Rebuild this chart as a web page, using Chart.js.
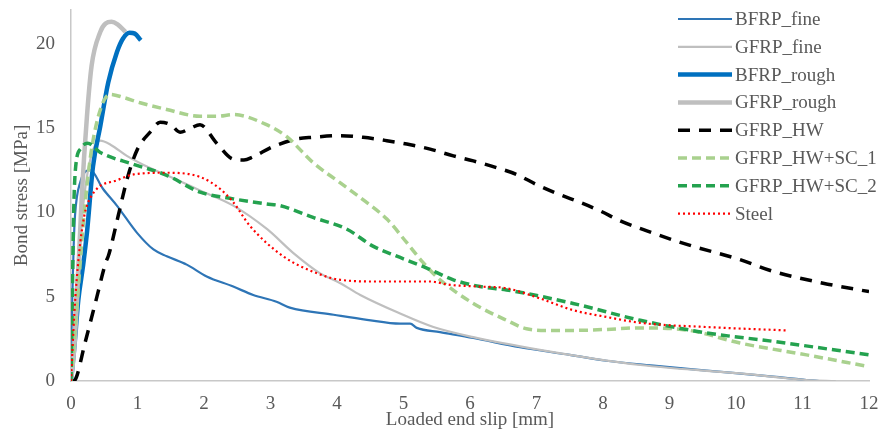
<!DOCTYPE html>
<html>
<head>
<meta charset="utf-8">
<script src="https://cdn.jsdelivr.net/npm/chart.js@4.4.1/dist/chart.umd.min.js"></script>
<style>
html,body{margin:0;padding:0;background:#fff;}
#wrap{width:883px;height:432px;position:relative;}
</style>
</head>
<body>
<div id="wrap"><canvas id="c" width="883" height="432"></canvas></div>
<script>
// ---- Data ----
const xTicks = [0,1,2,3,4,5,6,7,8,9,10,11,12];
const yTicks = [0,5,10,15,20];
const seriesNames = ["BFRP_fine","GFRP_fine","BFRP_rough","GFRP_rough","GFRP_HW","GFRP_HW+SC_1","GFRP_HW+SC_2","Steel"];

const bfrpFineX = [0,0.02,0.04,0.06,0.14,0.29,0.48,0.69,0.99,1.24,1.44,1.74,2.04,2.44,2.74,3.09,3.29,3.95,4.45,4.95,5.1,5.2,5.55,6.05,6.75,7.5,8.05,8.8,9.56,10.56,11.06,11.25];
const bfrpFineY = [0,5,8,9.8,11.8,12.5,11.4,10.4,8.8,7.8,7.4,6.9,6.2,5.6,5.1,4.7,4.35,3.93,3.63,3.4,3.4,3.15,2.9,2.55,2.0,1.55,1.2,0.9,0.62,0.26,0.06,0];

const gfrpFineX = [0,0.05,0.1,0.2,0.3,0.44,0.6,0.84,1.1,1.44,1.94,2.44,2.95,3.34,3.74,4.05,4.35,4.95,5.45,6.05,7.05,8.56,10.06,11.06,11.5];
const gfrpFineY = [0,4,7,11,13.3,14.25,14.0,13.35,12.8,12.2,11.3,10.4,9.0,7.6,6.4,5.8,5.1,4.0,3.2,2.6,1.85,0.95,0.45,0.06,0];

const bfrpRoughX = [0,0.05,0.11,0.18,0.24,0.33,0.44,0.56,0.69,0.78,0.88,0.96,1.05];
const bfrpRoughY = [0,2,4.8,6.8,8.8,12.7,15.1,17.7,19.5,20.3,20.65,20.6,20.2];

const gfrpRoughX = [0,0.05,0.09,0.16,0.24,0.31,0.44,0.52,0.61,0.7,0.82];
const gfrpRoughY = [0,2,4.8,10.8,15.7,18.7,20.7,21.2,21.3,21.15,20.7];

const gfrpHwX = [0.03,0.06,0.21,0.39,0.52,0.56,0.59,0.71,0.86,1.0,1.2,1.34,1.5,1.64,1.8,1.94,2.19,2.44,2.6,2.74,3.04,3.39,3.64,4.05,4.39,4.75,5.05,5.4,5.75,6.05,6.4,6.7,7.0,7.35,7.65,7.95,8.26,8.66,9.26,10.06,10.56,11.31,12.0];
const gfrpHwY = [0,0.06,2.25,5.0,7.0,7.4,7.8,9.8,12.2,13.75,14.8,15.35,15.2,14.75,15.0,15.2,14.1,13.15,13.1,13.3,13.9,14.35,14.45,14.55,14.45,14.25,14.05,13.75,13.35,13.05,12.65,12.25,11.65,11.05,10.6,10.1,9.5,8.9,8.1,7.2,6.5,5.8,5.3];

const sc1X = [0,0.05,0.1,0.2,0.3,0.45,0.59,0.8,1.04,1.44,1.94,2.2,2.44,2.94,3.24,3.64,4.05,4.39,4.75,5.05,5.3,5.55,6.05,6.55,6.85,7.2,7.55,8.0,8.56,9.3,10.06,11.06,12.0];
const sc1Y = [0,2.5,5,10,13.5,16.2,17.0,16.8,16.5,16.1,15.7,15.7,15.8,15.2,14.5,12.95,11.75,10.75,9.6,8.2,7.0,6.0,4.6,3.6,3.1,3.0,3.0,3.05,3.15,3.0,2.25,1.55,0.85];

const sc2X = [0,0.02,0.04,0.07,0.15,0.25,0.44,0.94,1.44,1.94,2.44,2.94,3.14,3.64,4.15,4.54,4.9,5.35,5.75,6.15,6.55,7.55,8.56,9.56,10.56,12.0];
const sc2Y = [0,5,10,12.7,13.8,14.1,13.55,12.85,12.2,11.2,10.8,10.5,10.4,9.7,9.0,8.0,7.4,6.7,6.0,5.6,5.4,4.6,3.6,2.85,2.35,1.55];

const steelX = [0,0.05,0.12,0.2,0.24,0.39,0.69,0.94,1.44,1.94,2.24,2.44,2.69,3.19,3.69,4.05,4.6,5.4,5.7,6.15,6.55,7.05,7.55,8.05,8.56,9.56,10.76];
const steelY = [0,4,7.5,9.8,10.4,11.4,11.9,12.25,12.35,12.1,11.4,10.6,9.2,7.4,6.4,6.0,5.9,5.9,5.7,5.6,5.5,4.9,4.2,3.8,3.45,3.2,3.0];

// ---- Build ----
const pts = (xs, ys) => xs.map((x, i) => ({x: x, y: ys[i]}));
const styles = [
  {c:'#2E75B6', w:2.2, d:[]},
  {c:'#BFBFBF', w:2.2, d:[]},
  {c:'#0070C0', w:4.5, d:[]},
  {c:'#BFBFBF', w:4.5, d:[]},
  {c:'#000000', w:3.5, d:[12,9]},
  {c:'#A9D18E', w:3.5, d:[9,5]},
  {c:'#24A24F', w:3.5, d:[9,5]},
  {c:'#FF0000', w:2.2, d:[2,3]}
];
const allData = [
  pts(bfrpFineX,bfrpFineY), pts(gfrpFineX,gfrpFineY), pts(bfrpRoughX,bfrpRoughY), pts(gfrpRoughX,gfrpRoughY),
  pts(gfrpHwX,gfrpHwY), pts(sc1X,sc1Y), pts(sc2X,sc2Y), pts(steelX,steelY)
];
const datasets = seriesNames.map((n, i) => ({
  label: n, data: allData[i], showLine: true, pointRadius: 0,
  borderColor: styles[i].c, borderWidth: styles[i].w, borderDash: styles[i].d,
  cubicInterpolationMode: 'monotone', fill: false, order: 7 - i
}));

const FONT = '"Liberation Serif", "Times New Roman", serif';
const legendPlugin = {
  id: 'customLegend',
  afterDraw(chart) {
    const ctx = chart.ctx;
    ctx.save();
    chart.data.datasets.forEach((ds, i) => {
      const y = 19 + i * 27.8;
      ctx.beginPath();
      ctx.strokeStyle = ds.borderColor;
      ctx.lineWidth = ds.borderWidth;
      ctx.setLineDash(ds.borderDash || []);
      ctx.moveTo(678, y);
      ctx.lineTo(732, y);
      ctx.stroke();
      ctx.setLineDash([]);
      ctx.fillStyle = '#595959';
      ctx.font = '19px ' + FONT;
      ctx.textBaseline = 'middle';
      ctx.textAlign = 'left';
      ctx.fillText(ds.label, 735, y + 1);
    });
    ctx.restore();
  }
};

new Chart(document.getElementById('c'), {
  type: 'scatter',
  data: { datasets: datasets },
  options: {
    responsive: false, animation: false, devicePixelRatio: 1,
    layout: { padding: { top: 10, right: 14, left: 0, bottom: 0 } },
    plugins: { legend: { display: false }, tooltip: { enabled: false } },
    scales: {
      x: {
        type: 'linear', min: 0, max: 12,
        afterBuildTicks: s => { s.ticks = xTicks.map(v => ({value: v})); },
        afterFit: s => { s.height = 51; s.paddingLeft = 0; s.paddingRight = 0; },
        grid: { display: false, drawTicks: false },
        border: { display: true, color: '#C8C8C8', width: 1.5 },
        ticks: { color: '#595959', padding: 12, font: { family: FONT, size: 19 }, maxRotation: 0 },
        title: { display: true, text: 'Loaded end slip [mm]', color: '#595959', font: { family: FONT, size: 19 }, padding: { top: 0, bottom: 1 } }
      },
      y: {
        type: 'linear', min: 0, max: 22,
        afterBuildTicks: s => { s.ticks = yTicks.map(v => ({value: v})); },
        afterFit: s => { s.width = 71; s.paddingTop = 0; s.paddingBottom = 0; },
        grid: { display: false, drawTicks: false },
        border: { display: true, color: '#C8C8C8', width: 1.5 },
        ticks: { color: '#595959', padding: 16, font: { family: FONT, size: 19 } },
        title: { display: true, text: 'Bond stress [MPa]', color: '#595959', font: { family: FONT, size: 19 }, padding: { top: 11, bottom: 0 } }
      }
    }
  },
  plugins: [legendPlugin]
});
</script>
</body>
</html>
